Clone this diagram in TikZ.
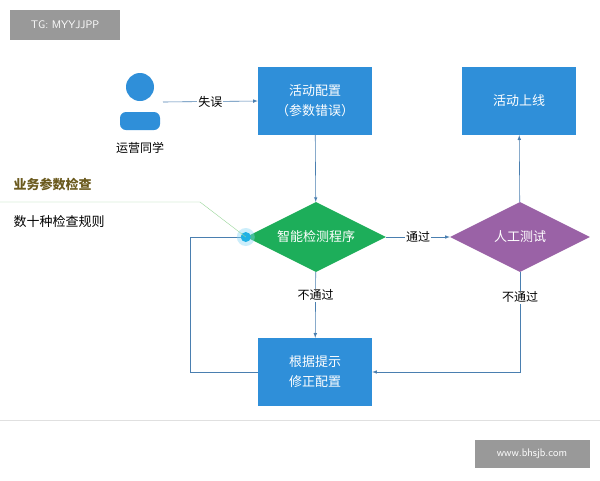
\documentclass[tikz,border=0pt]{standalone}
\usepackage{fontspec}
\setmainfont{Noto Sans CJK SC}
\usetikzlibrary{arrows,calc,shapes.geometric}
\definecolor{boxblue}{HTML}{2F8FD9}
\definecolor{okgreen}{HTML}{1DAE5A}
\definecolor{testpurple}{HTML}{9A62A6}
\definecolor{lineblue}{HTML}{4A7FB0}
\definecolor{tagolive}{HTML}{6B5A1E}
\tikzset{
  stepbox/.style={fill=boxblue, text=white, minimum width=114pt, minimum height=68pt, align=center, font=\fontsize{13}{20}\selectfont},
  checkdia/.style={diamond, aspect=2, minimum width=140pt, minimum height=70pt, text=white, font=\fontsize{13}{16}\selectfont, inner sep=0pt},
  flow/.style={draw=lineblue, line width=0.6pt, -latex},
  lbl/.style={font=\fontsize{12}{14}\selectfont, fill=white, inner sep=1pt},
  stamp/.style={fill=black!40, text=white, font=\fontsize{11}{13}\selectfont\sffamily}
}
\begin{document}
\begin{tikzpicture}[x=1pt, y=-1pt]
        \useasboundingbox (0,0) rectangle (600,480);
        \fill[white] (0,0) rectangle (600,480);

        % tags
        \node[stamp, minimum width=110pt, minimum height=30pt] (tg) at (65,25) {TG: MYYJJPP};
        \node[stamp, minimum width=115pt, minimum height=28pt] (site) at (532,454) {www.bhsjb.com};
        \draw[black!12] (0,420) -- (600,420);

        % operator
        \fill[boxblue] (140,87) circle (14pt);
        \fill[boxblue, rounded corners=6pt] (120,130) -- (120,112) -- (160,112) -- (160,130) -- cycle;
        \coordinate (op) at (163,102);
        \node[font=\fontsize{12}{14}\selectfont] (oplabel) at (140,148) {运营同学};

        % boxes
        \node[stepbox] (config) at (315,101) {活动配置\\（参数错误）};
        \node[stepbox] (online) at (519,101) {活动上线};
        \node[stepbox] (fix) at (315,372) {根据提示\\修正配置};
        \node[checkdia, fill=okgreen] (check) at (316,237) {智能检测程序};
        \node[checkdia, fill=testpurple] (manual) at (520,237) {人工测试};

        % connectors
        \draw[flow] (op) -- (config.west) node[lbl, midway] {失误};
        \draw[flow] (config) -- (check);
        \draw[flow] (check) -- (manual) node[lbl, midway] {通过};
        \draw[flow] (manual) -- (online);
        \draw[flow] (check) -- (fix) node[lbl, pos=0.35] {不通过};
        \draw[flow] (manual.south) -- (manual.south |- fix.east) node[lbl, pos=0.25] {不通过} -- (fix.east);
        \coordinate (back) at (190,372);
        \draw[flow] (fix.west) -- (back) |- (check.west);

        % rule note
        \fill[cyan!50, opacity=0.4] (check.west) circle (9pt);
        \fill[boxblue!70!cyan] (check.west) circle (5pt);
        \node[font=\bfseries\fontsize{13}{15}\selectfont, text=tagolive, anchor=west] (note) at (10,184) {业务参数检查};
        \node[font=\fontsize{13}{15}\selectfont, anchor=west] (rules) at (10,222) {数十种检查规则};
        \draw[black!40!green!40] (0,202) -- (200,202) -- (check.west);
    \end{tikzpicture}
\end{document}
